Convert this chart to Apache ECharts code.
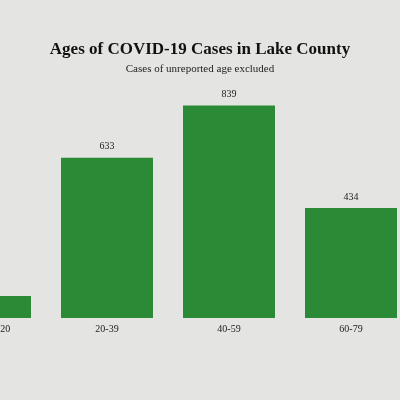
<!DOCTYPE html>
<html><head><meta charset="utf-8">
<script src="https://cdn.jsdelivr.net/npm/echarts@6/dist/echarts.min.js"></script>
<style>html,body{margin:0;background:#e4e4e2}#c{width:400px;height:400px}</style>
</head><body><div id="c"></div>
<script>
// age groups and case counts
const ageGroups = ['Less than 20', '20-39', '40-59', '60-79', '80+'];
const cases = [87, 633, 839, 434, 150];

const chart = echarts.init(document.getElementById('c'));
chart.setOption({
  backgroundColor: '#e4e4e2',
  title: {
    text: 'Ages of COVID-19 Cases in Lake County',
    subtext: 'Cases of unreported age excluded',
    left: 195, textAlign: 'center', top: 36, itemGap: 6,
    textStyle: {fontFamily: 'Liberation Serif', fontWeight: 'bold', fontSize: 17, color: '#111'},
    subtextStyle: {fontFamily: 'Liberation Serif', fontSize: 11, color: '#222'}
  },
  grid: {left: -76, width: 610, top: 90, bottom: 82, outerBoundsMode: 'none', containLabel: false},
  xAxis: {
    type: 'category', data: ageGroups,
    axisLine: {show: false}, axisTick: {show: false},
    axisLabel: {fontFamily: 'Liberation Serif', fontSize: 10, color: '#222', margin: 6}
  },
  yAxis: {type: 'value', min: 0, max: 900, show: false, splitLine: {show: false}},
  series: [{
    type: 'bar', data: cases, barWidth: 92,
    itemStyle: {color: '#2b8a35'},
    label: {show: true, position: 'top', fontFamily: 'Liberation Serif', fontSize: 10, color: '#222', distance: 6}
  }]
});
</script></body></html>
